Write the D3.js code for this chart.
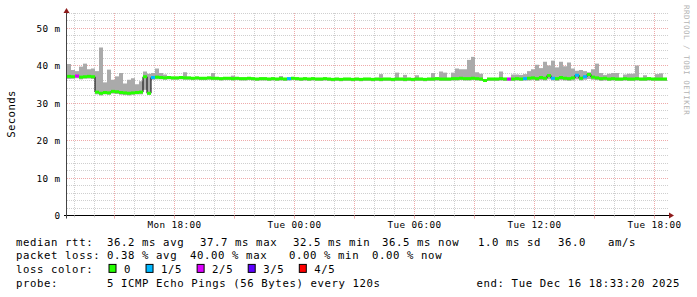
<!DOCTYPE html>
<html>
<head>
<meta charset="utf-8">
<script src="https://cdn.jsdelivr.net/npm/d3@7"></script>
<style>
  body { margin: 0; background: #fff; }
  text { font-family: "DejaVu Sans Mono", monospace; white-space: pre; }
</style>
</head>
<body>
<div id="chart"></div>
<script>
// --- Data (ms), one value per 12-minute bucket, starting Mon 12:37:30 ---
const medianRtt = [
  37.1, 37.0, 37.2, 36.9, 37.0, 37.1, 37.0, 32.9, 32.6, 32.8,
  32.7, 33.1, 33.0, 32.8, 32.7, 32.6, 32.7, 32.8, 32.9, 37.0,
  32.6, 36.8, 36.9, 36.8, 36.7, 36.8, 36.7, 36.7, 36.8, 36.7,
  36.7, 36.6, 36.7, 36.6, 36.6, 36.7, 36.6, 36.6, 36.5, 36.6,
  36.6, 36.5, 36.6, 36.5, 36.5, 36.6, 36.5, 36.4, 36.5, 36.5,
  36.4, 36.5, 36.4, 36.5, 36.4, 36.5, 36.6, 36.5, 36.4, 36.5,
  36.4, 36.5, 36.4, 36.4, 36.5, 36.4, 36.3, 36.4, 36.3, 36.4,
  36.4, 36.3, 36.4, 36.3, 36.4, 36.4, 36.3, 36.4, 36.3, 36.4,
  36.4, 36.3, 36.4, 36.4, 36.3, 36.4, 36.3, 36.4, 36.4, 36.3,
  36.4, 36.4, 36.5, 36.4, 36.4, 36.4, 36.5, 36.5, 36.6, 36.5,
  36.5, 36.6, 36.5, 36.4, 36.0, 36.4, 36.4, 36.4, 36.5, 36.4,
  36.4, 36.4, 36.5, 36.4, 36.5, 36.6, 36.7, 36.5, 36.8, 36.6,
  37.3, 36.6, 36.5, 36.8, 36.6, 36.5, 36.7, 37.4, 36.6, 37.0,
  37.6, 36.9, 36.7, 36.5, 36.6, 36.4, 36.5, 36.4, 36.4, 36.5,
  36.4, 36.4, 36.5, 36.4, 36.4, 36.5, 36.4, 36.4, 36.4, 36.4
];

const smokeMax = [
  40.4, 38.8, 38.5, 39.7, 40.5, 39.0, 39.2, 38.5, 44.8, 35.5,
  38.9, 36.2, 37.1, 38.0, 35.2, 36.2, 36.6, 35.0, 35.8, 38.4,
  37.8, 38.0, 39.2, 38.0, 37.6, 37.1, 37.0, 37.0, 37.1, 38.2,
  37.0, 36.9, 37.0, 36.9, 36.9, 37.0, 38.0, 36.9, 36.8, 36.9,
  36.9, 37.3, 36.9, 36.8, 36.8, 36.9, 36.8, 36.7, 36.8, 36.8,
  36.7, 36.8, 36.7, 37.2, 36.7, 36.8, 36.9, 36.8, 36.7, 36.8,
  36.7, 36.8, 36.7, 36.7, 36.8, 36.7, 36.6, 36.7, 36.6, 36.7,
  36.7, 36.6, 36.7, 36.6, 36.7, 36.7, 36.6, 36.7, 37.7, 36.7,
  36.7, 36.6, 38.1, 36.7, 37.5, 36.7, 36.6, 37.4, 36.7, 36.6,
  36.7, 38.0, 36.8, 38.4, 38.1, 36.7, 38.1, 39.2, 39.0, 39.0,
  41.5, 42.3, 38.2, 37.8, 36.4, 36.7, 36.7, 36.7, 38.4, 36.7,
  36.7, 37.6, 37.6, 37.5, 37.7, 38.5, 39.0, 40.2, 39.3, 41.0,
  40.0, 41.3, 39.5, 41.0, 39.8, 40.8, 39.2, 38.6, 38.8, 38.5,
  38.2, 39.0, 40.5, 38.0, 37.5, 37.8, 38.0, 38.0, 36.7, 37.6,
  37.8, 37.8, 40.0, 36.7, 37.4, 36.8, 36.7, 37.7, 37.9, 36.7
];

const smokeMin = [
  36.4, 36.5, 36.6, 36.3, 36.5, 36.5, 36.4, 32.3, 32.0, 32.3,
  32.2, 32.5, 32.4, 32.2, 32.1, 32.0, 32.2, 32.3, 32.3, 33.5,
  32.2, 36.2, 36.3, 36.3, 36.2, 36.3, 36.2, 36.2, 36.3, 36.2,
  36.2, 36.1, 36.2, 36.1, 36.1, 36.2, 36.1, 36.1, 36.0, 36.1,
  36.1, 36.0, 36.1, 36.0, 36.0, 36.1, 36.0, 35.9, 36.0, 36.0,
  35.9, 36.0, 35.9, 36.0, 35.9, 36.0, 36.1, 36.0, 35.9, 36.0,
  35.9, 36.0, 35.9, 35.9, 36.0, 35.9, 35.8, 35.9, 35.8, 35.9,
  35.9, 35.8, 35.9, 35.8, 35.9, 35.9, 35.8, 35.9, 35.8, 35.9,
  35.9, 35.8, 35.9, 35.9, 35.8, 35.9, 35.8, 35.9, 35.9, 35.8,
  35.9, 35.9, 36.0, 35.9, 35.9, 35.9, 36.0, 36.0, 36.1, 36.0,
  36.0, 36.1, 36.0, 35.9, 35.6, 35.9, 35.9, 35.9, 36.0, 35.9,
  35.9, 35.9, 36.0, 35.9, 36.0, 36.0, 36.1, 35.9, 36.1, 36.0,
  36.3, 36.0, 35.9, 36.1, 36.0, 35.9, 36.0, 36.3, 36.0, 36.2,
  36.4, 36.2, 36.1, 35.9, 36.0, 35.9, 36.0, 35.9, 35.9, 36.0,
  35.9, 35.9, 36.0, 35.9, 35.9, 36.0, 35.9, 35.9, 35.9, 35.9
];

// buckets with packet loss (index into the arrays above) and lost pings out of 5
const lossBucket = [2, 21, 55, 110, 114, 121, 127, 129];
const lossPings = [2, 1, 1, 2, 1, 1, 1, 1];

const lossLabels = ["0", "1/5", "2/5", "3/5", "4/5"];
const lossColors = ["#26ff00", "#00b8ff", "#dd00ff", "#5e00ff", "#ff0000"];

const legendLines = [
  [["median rtt:", 16], ["36.2 ms avg", 107], ["37.7 ms max", 200], ["32.5 ms min", 293],
   ["36.5 ms now", 382], ["1.0 ms sd", 478], ["36.0", 558], ["am/s", 608]],
  [["packet loss:", 16], ["0.38 % avg", 107], ["40.00 % max", 190], ["0.00 % min", 289],
   ["0.00 % now", 372]],
  [["loss color:", 16]],
  [["probe:", 16], ["5 ICMP Echo Pings (56 Bytes) every 120s", 107]]
];
const endText = "end: Tue Dec 16 18:33:20 2025";

// --- Layout ---
const width = 697;
const height = 297;
const plot = { left: 67, right: 667, top: 13, bottom: 215.5 };
const bucketMinutes = 12;
const startTime = new Date(2025, 11, 15, 12, 37, 30);
const endTime = new Date(2025, 11, 16, 18, 37, 30);

const svg = d3.select("#chart").append("svg")
  .attr("width", width).attr("height", height);

svg.append("rect").attr("width", width).attr("height", height).attr("fill", "#fff");

const x = d3.scaleTime().domain([startTime, endTime]).range([plot.left, plot.right]);
const y = d3.scaleLinear().domain([0, 54]).range([plot.bottom, plot.top]);
const crisp = (v) => Math.round(v - 0.5) + 0.5;

// --- Grid ---
const grid = svg.append("g").attr("stroke-dasharray", "1,1").attr("stroke-width", 1);
const minorY = y.ticks(27).filter((d) => d % 10 !== 0);
const majorY = y.ticks(5).filter((d) => d > 0);
const minorX = x.ticks(d3.timeHour.every(1)).filter((d) => d.getHours() % 3 !== 0);
const majorX = x.ticks(d3.timeHour.every(3));

grid.selectAll("line.minor-y").data(minorY).join("line")
  .attr("x1", plot.left).attr("x2", plot.right + 1)
  .attr("y1", (d) => crisp(y(d))).attr("y2", (d) => crisp(y(d)))
  .attr("stroke", "#cfcfcf");
grid.selectAll("line.minor-x").data(minorX).join("line")
  .attr("x1", (d) => crisp(x(d))).attr("x2", (d) => crisp(x(d)))
  .attr("y1", plot.top).attr("y2", plot.bottom)
  .attr("stroke", "#cfcfcf");
grid.selectAll("line.major-y").data(majorY).join("line")
  .attr("x1", plot.left).attr("x2", plot.right + 1)
  .attr("y1", (d) => crisp(y(d))).attr("y2", (d) => crisp(y(d)))
  .attr("stroke", "#eeaaaa");
grid.selectAll("line.major-x").data(majorX).join("line")
  .attr("x1", (d) => crisp(x(d))).attr("x2", (d) => crisp(x(d)))
  .attr("y1", plot.top).attr("y2", plot.bottom)
  .attr("stroke", "#eeaaaa");

// --- Series ---
const buckets = medianRtt.map((m, i) => ({
  t0: d3.timeMinute.offset(startTime, bucketMinutes * i),
  t1: d3.timeMinute.offset(startTime, bucketMinutes * (i + 1)),
  median: m,
  max: smokeMax[i],
  min: smokeMin[i],
  loss: 0
}));
lossBucket.forEach((b, k) => { buckets[b].loss = lossPings[k]; });

// smoke
svg.append("g").selectAll("rect").data(buckets).join("rect")
  .attr("x", (d) => x(d.t0))
  .attr("width", (d) => x(d.t1) - x(d.t0))
  .attr("y", (d) => y(d.max))
  .attr("height", (d) => y(d.min) - y(d.max))
  .attr("fill", "#aaaaaa");

// median line
const linePts = buckets.map((d) => [x(d.t0), y(d.median)]);
linePts.push([x(buckets[buckets.length - 1].t1), y(buckets[buckets.length - 1].median)]);
svg.append("path")
  .attr("d", d3.line().curve(d3.curveStepAfter)(linePts))
  .attr("fill", "none").attr("stroke", "#000").attr("stroke-width", 1);

// loss-coloured median band
svg.append("g").selectAll("rect").data(buckets).join("rect")
  .attr("x", (d) => x(d.t0))
  .attr("width", (d) => x(d.t1) - x(d.t0))
  .attr("y", (d) => y(d.median) - 1.5)
  .attr("height", 3)
  .attr("fill", (d) => lossColors[d.loss]);

// --- Axes ---
const axisColor = "#000";
const arrowColor = "#8e1b1b";
svg.append("line")
  .attr("x1", plot.left - 3).attr("x2", plot.right + 3)
  .attr("y1", plot.bottom).attr("y2", plot.bottom)
  .attr("stroke", axisColor);
svg.append("line")
  .attr("x1", plot.left - 0.5).attr("x2", plot.left - 0.5)
  .attr("y1", plot.bottom + 3).attr("y2", plot.top - 1)
  .attr("stroke", "#444");
svg.append("path")
  .attr("d", `M${plot.right + 2},${plot.bottom - 3}L${plot.right + 7},${plot.bottom}L${plot.right + 2},${plot.bottom + 3}Z`)
  .attr("fill", arrowColor);
svg.append("path")
  .attr("d", `M${plot.left - 3.5},${plot.top}L${plot.left - 0.5},${plot.top - 5}L${plot.left + 2.5},${plot.top}Z`)
  .attr("fill", arrowColor);

// ticks below the x axis
svg.append("g").selectAll("line").data(x.ticks(d3.timeHour.every(1))).join("line")
  .attr("x1", (d) => crisp(x(d))).attr("x2", (d) => crisp(x(d)))
  .attr("y1", plot.bottom).attr("y2", (d) => plot.bottom + (d.getHours() % 3 === 0 ? 3 : 2))
  .attr("stroke", (d) => (d.getHours() % 3 === 0 ? "#eeaaaa" : "#cfcfcf"));

// y labels
svg.append("g").selectAll("text").data(y.ticks(5)).join("text")
  .attr("x", 60.5)
  .attr("y", (d) => crisp(y(d)) + 3.5)
  .attr("text-anchor", "end")
  .style("font-size", "9.33px")
  .style("letter-spacing", "0.4px")
  .text((d) => (d === 0 ? "0" : `${d} m`));

// x labels
const fmt = d3.timeFormat("%a %H:%M");
svg.append("g").selectAll("text").data(x.ticks(d3.timeHour.every(6))).join("text")
  .attr("x", (d) => crisp(x(d)))
  .attr("y", 228)
  .attr("text-anchor", "middle")
  .style("font-size", "9.33px")
  .style("letter-spacing", "0.4px")
  .text((d) => fmt(d));

// y title
svg.append("text")
  .attr("transform", "translate(15,114) rotate(-90)")
  .attr("text-anchor", "middle")
  .style("font-size", "10.67px")
  .style("letter-spacing", "0.4px")
  .text("Seconds");

// watermark
svg.append("text")
  .attr("transform", "translate(684,5) rotate(90)")
  .style("font-size", "7.5px")
  .style("letter-spacing", "0.5px")
  .attr("fill", "#b4b4b4")
  .text("RRDTOOL / TOBI OETIKER");

// --- Legend ---
const baselines = [245.5, 259.2, 272.9, 286.6];
const legend = svg.append("g").style("font-size", "10.67px").style("letter-spacing", "0.6px");
legendLines.forEach((segs, li) => {
  segs.forEach(([txt, sx]) => {
    legend.append("text").attr("x", sx).attr("y", baselines[li]).text(txt);
  });
});

let sx = 108.5;
lossLabels.forEach((lab, i) => {
  legend.append("rect")
    .attr("x", sx + 0.5).attr("y", baselines[2] - 8.5)
    .attr("width", 7).attr("height", 8)
    .attr("fill", lossColors[i]).attr("stroke", "#000");
  legend.append("text").attr("x", sx + 15.5).attr("y", baselines[2]).text(lab);
  sx += 15.5 + lab.length * 7.03 + 14.5;
});

legend.append("text")
  .attr("x", 680).attr("y", baselines[3])
  .attr("text-anchor", "end")
  .text(endText);
</script>
</body>
</html>
